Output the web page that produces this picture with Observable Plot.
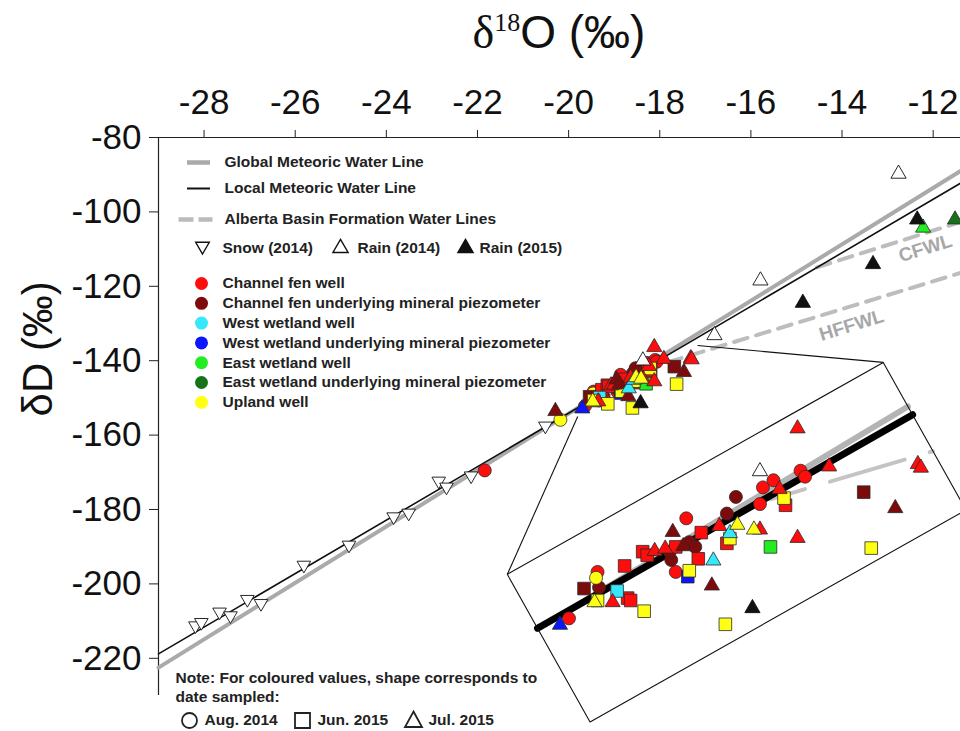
<!DOCTYPE html>
<html><head><meta charset="utf-8">
<script src="https://cdn.jsdelivr.net/npm/d3@7"></script>
<script src="https://cdn.jsdelivr.net/npm/@observablehq/plot@0.6"></script>
<style>
body{margin:0;background:#fff;}
#wrap{position:relative;width:960px;height:731px;overflow:hidden;background:#fff;font-family:Arial,"Liberation Sans",sans-serif;}
#xtitle{position:relative;height:67px;}
#xtitle .t{position:absolute;left:559px;top:9px;transform:translateX(-50%);white-space:nowrap;line-height:1;
  font-family:"Liberation Sans Narrow","Arial Narrow","Liberation Sans",Arial,sans-serif;font-size:46px;color:#111;}
#xtitle .s{font-family:"Liberation Serif","Times New Roman",serif;}
#xtitle sup{font-family:"Liberation Serif","Times New Roman",serif;font-size:26px;vertical-align:0;position:relative;top:-17px;}
[aria-label="x-axis tick label"]{font-family:"Liberation Sans Narrow","Arial Narrow","Liberation Sans",Arial,sans-serif;font-size:35px;}
[aria-label="y-axis tick label"]{font-family:Arial,"Liberation Sans",sans-serif;font-size:35px;}
</style></head>
<body>
<div id="wrap">
  <div id="xtitle"><div class="t"><span class="s">δ</span><sup>18</sup>O (‰)</div></div>
  <div id="chart"></div>
</div>
<script>
// ---------- axes ----------
const xTicks = [-28, -26, -24, -22, -20, -18, -16, -14, -12];
const yTicks = [-80, -100, -120, -140, -160, -180, -200, -220];

// ---------- categories ----------
const siteNames = ["Channel fen well", "Channel fen underlying mineral piezometer", "West wetland well",
  "West wetland underlying mineral piezometer", "East wetland well", "East wetland underlying mineral piezometer", "Upland well"];
const siteColors = ["#ff0d0d", "#7e0b0b", "#36e8fb", "#0b16ff", "#22ec22", "#16731a", "#ffff14"];
const dateNames = ["Aug. 2014", "Jun. 2015", "Jul. 2015"];

// ---------- samples [δ18O, δD] ----------
const cfWell_Aug2014 = [[-19.64,-152.2],[-19.45,-148.3],[-18.93,-148.3],[-18.86,-143.8],[-18.35,-141.2],[-18.28,-140.6],[-18.37,-142.6],[-18.10,-139.8],[-18.07,-140.3],[-21.84,-169.5]];
const cfWell_Jun2015 = [[-19.25,-150.5],[-19.23,-150.7],[-19.27,-147.8],[-19.15,-146.6],[-19.12,-146.9],[-18.93,-146.2],[-18.78,-147.2],[-18.76,-145.0],[-18.59,-145.9],[-18.20,-142.7]];
const cfWell_Jul2015 = [[-19.35,-150.8],[-19.07,-146.5],[-19.00,-146.3],[-18.64,-144.4],[-18.37,-144.7],[-18.12,-136.2],[-18.24,-141.3],[-17.91,-139.4],[-17.32,-139.2],[-17.30,-139.5],[-18.12,-145.4]];
const cfPiez_Aug2014 = [[-19.44,-149.6],[-18.96,-147.3],[-18.97,-146.6],[-18.84,-145.8],[-18.80,-146.2],[-18.59,-143.4],[-18.53,-142.0]];
const cfPiez_Jun2015 = [[-19.54,-149.7],[-17.68,-141.6]];
const cfPiez_Jul2015 = [[-18.95,-144.9],[-18.88,-146.1],[-18.69,-149.4],[-17.47,-142.9],[-20.29,-153.4]];
const wwWell_Jun2015 = [[-19.32,-149.9]];
const wwWell_Jul2015 = [[-18.68,-147.3],[-18.57,-145.0]];
const wwPiez_Jun2015 = [[-18.85,-148.7]];
const wwPiez_Jul2015 = [[-19.70,-152.7]];
const ewWell_Jun2015 = [[-18.30,-146.2]];
const ewWell_Jul2015 = [[-12.22,-104.1]];
const ewPiez_Jul2015 = [[-11.52,-101.9]];
const upWell_Aug2014 = [[-19.46,-148.8],[-20.18,-155.9]];
const upWell_Jun2015 = [[-19.45,-150.7],[-19.14,-151.6],[-18.84,-148.2],[-18.60,-152.7],[-18.57,-145.5],[-18.21,-142.1],[-17.63,-146.3]];
const upWell_Jul2015 = [[-19.47,-150.8],[-18.52,-144.3],[-18.41,-144.7]];

// precipitation
const snow2014 = [[-28.19,-211.6],[-28.06,-210.7],[-27.66,-207.9],[-27.42,-208.9],[-27.05,-204.5],[-26.75,-205.6],[-25.81,-195.3],[-24.82,-189.9],[-23.84,-182.3],[-23.51,-181.3],[-22.85,-172.7],[-22.68,-174.3],[-22.14,-171.3],[-20.51,-157.9]];
const rain2014 = [[-18.37,-139.8],[-16.80,-133.0],[-15.79,-118.3],[-12.76,-89.6]];
const rain2015 = [[-18.42,-151.3],[-14.86,-124.3],[-13.32,-113.9],[-12.35,-101.9]];

// ---------- water lines (end points) ----------
const gmwl = [[-29, -222.5], [-11.4, -89.0]];
const lmwl = [[-29, -218.8], [-11.4, -92.3]];
const cfwl = [[-14.55, -114.9], [-11.4, -102.7]];
const hffwl = [[-18.3, -142.2], [-11.4, -116.4]];
const lineLabels = [{text: "CFWL", x: -12.17, y: -109.8}, {text: "HFFWL", x: -13.79, y: -130.5}];

// ---------- inset (magnified view of the sample cluster) ----------
const insetSource = [[-20.05, -148.5], [-17.55, -130.7], [-17.00, -143.1], [-19.50, -160.9]];
const insetFrom = [-19.70, -152.66];
const insetTo = [-20.19, -210.73];
const insetZoom = [3.3, 3.2];
const connectorStarts = [[-19.80, -155.0], [-17.17, -135.9]];

// ---------- build records ----------
const groups = [
  [0,0,cfWell_Aug2014],[0,1,cfWell_Jun2015],[0,2,cfWell_Jul2015],
  [1,0,cfPiez_Aug2014],[1,1,cfPiez_Jun2015],[1,2,cfPiez_Jul2015],
  [2,1,wwWell_Jun2015],[2,2,wwWell_Jul2015],
  [3,1,wwPiez_Jun2015],[3,2,wwPiez_Jul2015],
  [4,1,ewWell_Jun2015],[4,2,ewWell_Jul2015],
  [5,2,ewPiez_Jul2015],
  [6,0,upWell_Aug2014],[6,1,upWell_Jun2015],[6,2,upWell_Jul2015]
];
const samples = groups.flatMap(([site, date, pts]) => pts.map(([x, y]) => ({x, y, site, date, color: siteColors[site]})));
const precip = [
  ...snow2014.map(([x, y]) => ({x, y, kind: "snow"})),
  ...rain2014.map(([x, y]) => ({x, y, kind: "rain14"})),
  ...rain2015.map(([x, y]) => ({x, y, kind: "rain15"}))
];

const T = ([x, y]) => [insetTo[0] + insetZoom[0] * (x - insetFrom[0]), insetTo[1] + insetZoom[1] * (y - insetFrom[1])];
const box = insetSource.map(T);
const cen = [d3.mean(box, d => d[0]), d3.mean(box, d => d[1])];
const E = box.map((a, i) => {
  const b = box[(i + 1) % box.length];
  let n = [-(b[1] - a[1]), b[0] - a[0]];
  if ((cen[0] - a[0]) * n[0] + (cen[1] - a[1]) * n[1] < 0) n = [-n[0], -n[1]];
  return {a, n};
});
function inside(p) {
  return E.every(({a, n}) => (p[0] - a[0]) * n[0] + (p[1] - a[1]) * n[1] >= 0);
}
function clip(p, q) {
  let t0 = 0, t1 = 1;
  const d = [q[0] - p[0], q[1] - p[1]];
  for (const {a, n} of E) {
    const num = (p[0] - a[0]) * n[0] + (p[1] - a[1]) * n[1];
    const den = d[0] * n[0] + d[1] * n[1];
    if (den === 0) { if (num < 0) return []; continue; }
    const t = -num / den;
    if (den > 0) t0 = Math.max(t0, t); else t1 = Math.min(t1, t);
  }
  if (t0 > t1) return [];
  return [[p[0] + t0 * d[0], p[1] + t0 * d[1]], [p[0] + t1 * d[0], p[1] + t1 * d[1]]];
}
const insetLine = (seg) => clip(...seg.map(T));
const insetSamples = samples.map(d => { const [x, y] = T([d.x, d.y]); return {...d, x, y}; }).filter(d => inside([d.x, d.y]));
const insetPrecip = precip.map(d => { const [x, y] = T([d.x, d.y]); return {...d, x, y}; }).filter(d => inside([d.x, d.y]));
const connectors = connectorStarts.map((s, i) => ({x1: s[0], y1: s[1], x2: box[i][0], y2: box[i][1]}));

// ---------- symbols ----------
const CIRCLE = {draw(c) { c.moveTo(6.5, 0); c.arc(0, 0, 6.5, 0, 2 * Math.PI); }};
const SQUARE = {draw(c) { c.rect(-6.3, -6.3, 12.6, 12.6); }};
const TRI = {draw(c) { c.moveTo(0, -8.2); c.lineTo(7.6, 5); c.lineTo(-7.6, 5); c.closePath(); }};
const DTRI = {draw(c) { c.moveTo(0, 6.5); c.lineTo(6.8, -5.2); c.lineTo(-6.8, -5.2); c.closePath(); }};
const shapes = [CIRCLE, SQUARE, TRI];
const L_GM = {draw(c) { c.moveTo(-11.5, 0); c.lineTo(11.5, 0); }};
const L_DASH = {draw(c) { c.moveTo(-17, 0); c.lineTo(-2, 0); c.moveTo(3, 0); c.lineTo(17, 0); }};
const O_CIRCLE = {draw(c) { c.moveTo(7.5, 0); c.arc(0, 0, 7.5, 0, 2 * Math.PI); }};
const O_SQUARE = {draw(c) { c.rect(-7.5, -7.5, 15, 15); }};
const O_TRI = {draw(c) { c.moveTo(0, -9); c.lineTo(8.5, 6.5); c.lineTo(-8.5, 6.5); c.closePath(); }};

const precipStyle = {snow: [DTRI, "white"], rain14: [TRI, "white"], rain15: [TRI, "#111"]};
const sampleMarks = (data) => [0, 1, 2].map(k => Plot.dot(data.filter(d => d.date === k), {
  x: "x", y: "y", symbol: shapes[k], fill: "color", stroke: "#2a2a2a", strokeWidth: 0.8
}));
const precipMarks = (data) => Object.keys(precipStyle).map(k => Plot.dot(data.filter(d => d.kind === k), {
  x: "x", y: "y", symbol: precipStyle[k][0], fill: precipStyle[k][1], stroke: "#111", strokeWidth: 0.9
}));

// ---------- legend ----------
const txt = {frameAnchor: "top-left", textAnchor: "start", lineAnchor: "middle", fontSize: 15.5, fontWeight: "bold", fill: "#222",
  fontFamily: "Arial, 'Liberation Sans', sans-serif"};
const legendLines = [
  {label: "Global Meteoric Water Line", sym: L_GM, stroke: "#aaaaaa", w: 4.5, dx: 40, dy: 25},
  {label: "Local Meteoric Water Line", sym: L_GM, stroke: "#111", w: 2, dx: 40, dy: 51},
  {label: "Alberta Basin Formation Water Lines", sym: L_DASH, stroke: "#bbbbbb", w: 4.5, dx: 37, dy: 82}
];
const legendPrecip = [
  {label: "Snow (2014)", sym: DTRI, fill: "white", dx: 44, tx: 64},
  {label: "Rain (2014)", sym: TRI, fill: "white", dx: 182, tx: 199},
  {label: "Rain (2015)", sym: TRI, fill: "#111", dx: 307, tx: 321}
];
const legendMarks = [
  ...legendLines.flatMap(d => [
    Plot.dot([0], {x: null, y: null, frameAnchor: "top-left", dx: d.dx, dy: d.dy, symbol: d.sym, fill: "none", stroke: d.stroke, strokeWidth: d.w}),
    Plot.text([d.label], {...txt, dx: 66, dy: d.dy})
  ]),
  ...legendPrecip.flatMap(d => [
    Plot.dot([0], {x: null, y: null, frameAnchor: "top-left", dx: d.dx, dy: 110, symbol: d.sym, fill: d.fill, stroke: "#111", strokeWidth: 1.4}),
    Plot.text([d.label], {...txt, dx: d.tx, dy: 111})
  ]),
  ...siteNames.flatMap((name, i) => [
    Plot.dot([0], {x: null, y: null, frameAnchor: "top-left", dx: 43, dy: 146 + i * 19.8, symbol: CIRCLE, fill: siteColors[i], stroke: "none"}),
    Plot.text([name], {...txt, dx: 64, dy: 146 + i * 19.8})
  ])
];
const noteTxt = {...txt, frameAnchor: "bottom-left", fontSize: 15.5};
const noteLines = ["Note: For coloured values, shape corresponds to", "date sampled:"];
const dateSyms = [O_CIRCLE, O_SQUARE, O_TRI];
const noteMarks = [
  ...noteLines.map((s, i) => Plot.text([s], {...noteTxt, dx: 17, dy: -17 + i * 19})),
  ...dateNames.flatMap((s, i) => [
    Plot.dot([0], {x: null, y: null, frameAnchor: "bottom-left", dx: [31, 144, 255][i], dy: 25, symbol: dateSyms[i], fill: "none", stroke: "#222", strokeWidth: 1.8}),
    Plot.text([s], {...noteTxt, dx: [46, 159, 270][i], dy: 25})
  ])
];

const line = (pts, o) => Plot.line(pts, {x: d => d[0], y: d => d[1], ...o});

const chart = Plot.plot({
  width: 960, height: 664,
  marginTop: 70, marginLeft: 158, marginRight: 0, marginBottom: 36,
  x: {domain: [-29, -11.4]},
  y: {domain: [-230, -80]},
  color: {type: "identity"},
  style: {background: "white", overflow: "visible", fontFamily: "Arial, 'Liberation Sans', sans-serif", color: "#111"},
  marks: [
    Plot.axisX({anchor: "top", ticks: xTicks, tickFormat: d => String(d), tickSize: 8, tickPadding: 16, fontSize: 35, label: null, stroke: "#222"}),
    Plot.axisY({anchor: "left", ticks: yTicks, tickFormat: d => String(d), tickSize: 9, tickPadding: 8, fontSize: 35, label: null, stroke: "#222"}),
    Plot.ruleY([-80], {stroke: "#222", strokeWidth: 1.2}),
    Plot.ruleX([-29], {stroke: "#222", strokeWidth: 1.2}),
    Plot.text(["δD (‰)"], {frameAnchor: "left", dx: -120, rotate: -90, fontSize: 42, fill: "#111"}),
    // water lines
    line(cfwl, {stroke: "#bdbdbd", strokeWidth: 4, strokeDasharray: "14,9"}),
    line(hffwl, {stroke: "#bdbdbd", strokeWidth: 4, strokeDasharray: "14,9"}),
    line(gmwl, {stroke: "#aaaaaa", strokeWidth: 4}),
    line(lmwl, {stroke: "#111", strokeWidth: 1.6}),
    Plot.text(lineLabels, {x: "x", y: "y", text: "text", rotate: -17, fontSize: 19, fill: "#a8a8a8", fontWeight: "bold"}),
    // samples
    ...precipMarks(precip.filter(d => d.kind === "snow")),
    ...sampleMarks(samples),
    ...precipMarks(precip.filter(d => d.kind !== "snow")),
    // inset
    Plot.link(connectors, {x1: "x1", y1: "y1", x2: "x2", y2: "y2", stroke: "#111", strokeWidth: 1.1}),
    Plot.line([...box, box[0]], {x: d => d[0], y: d => d[1], fill: "white", stroke: "none"}),
    line(insetLine(gmwl), {stroke: "#b4b4b4", strokeWidth: 6}),
    line(insetLine(hffwl), {stroke: "#c4c4c4", strokeWidth: 4, strokeDasharray: "78,26", strokeDashoffset: 42}),
    line(insetLine(lmwl), {stroke: "#000", strokeWidth: 7}),
    ...sampleMarks(insetSamples),
    ...precipMarks(insetPrecip),
    Plot.line([...box, box[0]], {x: d => d[0], y: d => d[1], stroke: "#111", strokeWidth: 1.1}),
    // legend
    ...legendMarks,
    ...noteMarks
  ]
});
document.getElementById("chart").append(chart);
</script>
</body></html>
